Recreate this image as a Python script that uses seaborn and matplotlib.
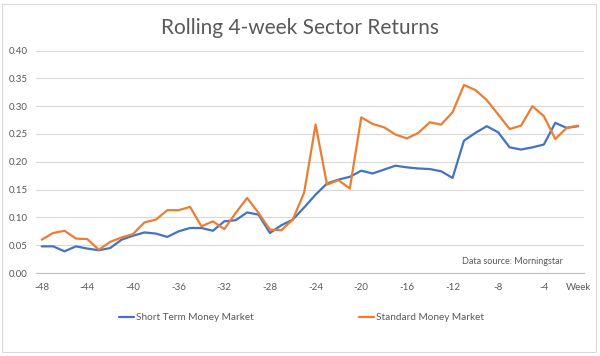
import numpy as np
import pandas as pd
import seaborn as sns
import matplotlib.pyplot as plt
from matplotlib.patches import Rectangle

weeks = list(range(-48, 0))
short_term = [0.048, 0.048, 0.039, 0.048, 0.044, 0.041, 0.045, 0.060, 0.067, 0.073,
              0.071, 0.065, 0.075, 0.081, 0.081, 0.076, 0.093, 0.095, 0.109, 0.105,
              0.072, 0.086, 0.096, 0.118, 0.141, 0.161, 0.168, 0.173, 0.184, 0.179,
              0.186, 0.193, 0.190, 0.188, 0.187, 0.183, 0.171, 0.238, 0.252, 0.264,
              0.253, 0.226, 0.222, 0.226, 0.231, 0.270, 0.261, 0.264]
standard = [0.060, 0.072, 0.076, 0.062, 0.061, 0.042, 0.056, 0.064, 0.070, 0.091,
            0.096, 0.113, 0.113, 0.119, 0.084, 0.093, 0.079, 0.108, 0.135, 0.108,
            0.078, 0.077, 0.096, 0.145, 0.267, 0.159, 0.167, 0.152, 0.280, 0.268,
            0.262, 0.249, 0.242, 0.252, 0.271, 0.267, 0.289, 0.338, 0.329, 0.311,
            0.285, 0.259, 0.265, 0.300, 0.282, 0.241, 0.261, 0.265]
series_names = ['Short Term Money Market', 'Standard Money Market']
xtick_pos = [-48, -44, -40, -36, -32, -28, -24, -20, -16, -12, -8, -4, -1]
xtick_labels = ['-48', '-44', '-40', '-36', '-32', '-28', '-24', '-20', '-16', '-12', '-8', '-4', 'Week']

df = pd.DataFrame({
    'week': weeks * 2,
    'value': short_term + standard,
    'series': [series_names[0]] * len(weeks) + [series_names[1]] * len(weeks),
})

sns.set_style('white')
plt.rcParams['font.family'] = ['Lato', 'DejaVu Sans']
grey = '#595959'

fig = plt.figure(figsize=(6, 3.56), dpi=100)
ax = fig.add_axes([0.06, 0.233, 0.913, 0.625])
sns.lineplot(data=df, x='week', y='value', hue='series',
             palette=['#4472C4', '#ED7D31'], linewidth=1.6, ax=ax)

ax.set_xlim(-48.5, -0.5)
ax.set_ylim(0, 0.40)
ax.set_yticks(np.arange(0, 0.41, 0.05))
ax.set_yticklabels([f'{v:.2f}' for v in np.arange(0, 0.41, 0.05)])
ax.set_xticks(xtick_pos)
ax.set_xticklabels(xtick_labels)
ax.grid(axis='y', color='#d9d9d9', linewidth=0.8)
ax.set_axisbelow(True)
for s in ['top', 'right', 'left']:
    ax.spines[s].set_visible(False)
ax.spines['bottom'].set_color('#bfbfbf')
ax.spines['bottom'].set_linewidth(0.8)
ax.tick_params(axis='x', colors=grey, labelsize=7, length=3, color='#bfbfbf', pad=4)
ax.tick_params(axis='y', colors=grey, labelsize=7, length=0, pad=6)
ax.set_xlabel('')
ax.set_ylabel('')

ax.text(0.962, 0.054, 'Data source: Morningstar', transform=ax.transAxes,
        ha='right', va='center', fontsize=6.5, color=grey)

fig.suptitle('Rolling 4-week Sector Returns', y=0.95, fontsize=15, color=grey)

handles, labels = ax.get_legend_handles_labels()
ax.get_legend().remove()
fig.legend(handles, labels, loc='center', bbox_to_anchor=(0.503, 0.107), ncol=2,
           frameon=False, fontsize=7.2, labelcolor=grey, columnspacing=10.5,
           handlelength=1.5, handletextpad=0.2)

fig.patches.append(Rectangle((0.004, 0.01), 0.99, 0.98, transform=fig.transFigure,
                             fill=False, edgecolor='#d9d9d9', linewidth=0.8))

fig.savefig('out.png', dpi=100)
